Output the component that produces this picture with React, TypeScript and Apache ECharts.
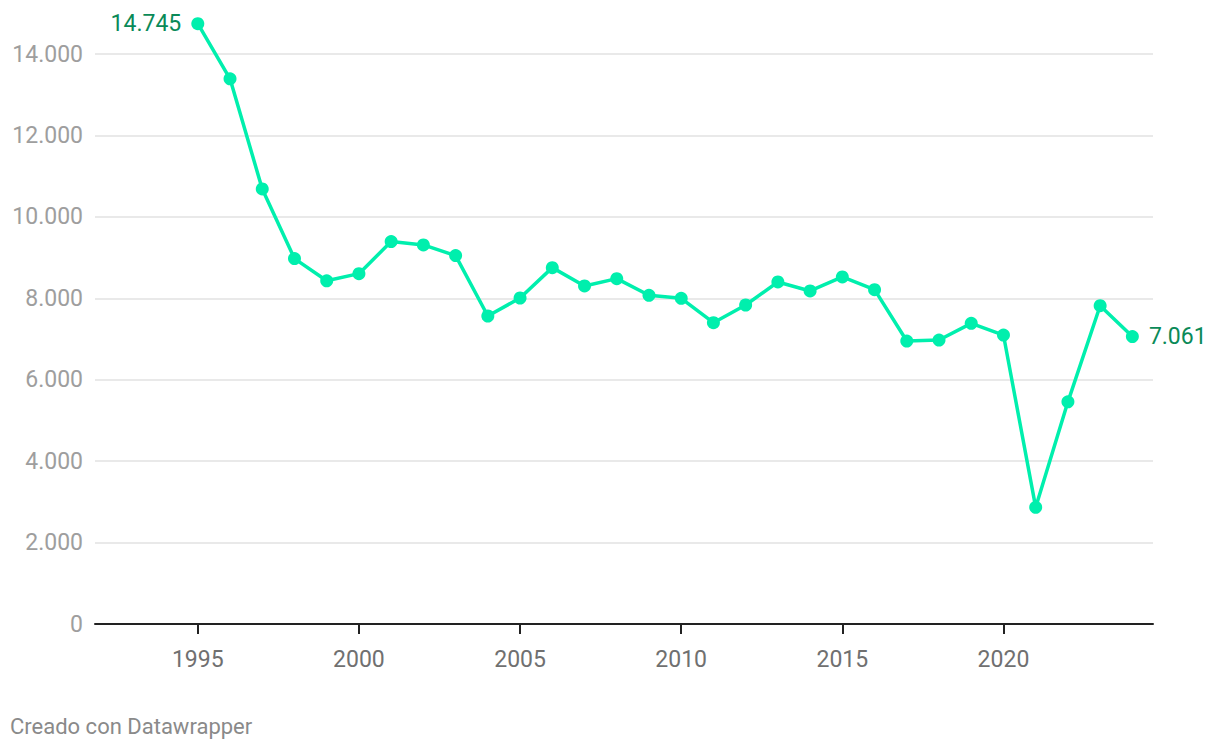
import React, { useEffect, useRef } from "react";
import * as echarts from "echarts";

const years = [
  1995, 1996, 1997, 1998, 1999, 2000, 2001, 2002, 2003, 2004, 2005, 2006, 2007, 2008, 2009,
  2010, 2011, 2012, 2013, 2014, 2015, 2016, 2017, 2018, 2019, 2020, 2021, 2022, 2023, 2024,
];
const values = [
  14745, 13390, 10685, 8975, 8430, 8605, 9392, 9311, 9048, 7565, 8007, 8753, 8303, 8482, 8074,
  8000, 7400, 7835, 8401, 8180, 8524, 8212, 6950, 6974, 7385, 7097, 2866, 5457, 7818, 7061,
];
const xTickYears = [1995, 2000, 2005, 2010, 2015, 2020];
const yTicks = [0, 2000, 4000, 6000, 8000, 10000, 12000, 14000];
const footer = "Creado con Datawrapper";

const fmt = (v: number) => String(Math.round(v)).replace(/\B(?=(\d{3})+(?!\d))/g, ".");

export default function App() {
  const ref = useRef<HTMLDivElement>(null);
  useEffect(() => {
    if (!ref.current) return;
    const chart = echarts.init(ref.current, null, { renderer: "svg" });
    const last = years.length - 1;
    const data = years.map((y, i) => {
      const item: any = { value: [y, values[i]] };
      if (i === 0) {
        item.label = { show: true, position: "left", distance: 10 };
      } else if (i === last) {
        item.label = { show: true, position: "right", distance: 10 };
      }
      return item;
    });
    chart.setOption({
      animation: false,
      grid: { left: 95, right: 67, top: 54, bottom: 126, containLabel: false },
      xAxis: {
        type: "value",
        min: 1991.81,
        max: 2024.64,
        splitLine: { show: false },
        axisLine: { show: true, lineStyle: { color: "#222", width: 2 } },
        axisTick: {
          show: true,
          length: 10,
          lineStyle: { color: "#222", width: 2 },
          customValues: xTickYears,
        },
        axisLabel: {
          customValues: xTickYears,
          formatter: (v: number) => String(v),
          color: "#707070",
          fontFamily: "Roboto",
          fontSize: 23,
          margin: 24,
        },
      },
      yAxis: {
        type: "value",
        min: 0,
        max: 14000,
        interval: 2000,
        axisLine: { show: false },
        axisTick: { show: false },
        splitLine: { show: true, lineStyle: { color: "#e2e2e2", width: 1.5 } },
        axisLabel: {
          formatter: (v: number) => fmt(v),
          color: "#9e9e9e",
          fontFamily: "Roboto",
          fontSize: 23,
          margin: 12,
        },
      },
      series: [
        {
          type: "line",
          data,
          clip: false,
          symbol: "circle",
          symbolSize: 13,
          showAllSymbol: true,
          lineStyle: { color: "#00efad", width: 3.5 },
          itemStyle: { color: "#00efad" },
          label: {
            show: false,
            formatter: (p: any) => fmt(p.value[1]),
            color: "#0a8a58",
            fontFamily: "Roboto",
            fontSize: 23,
          },
          z: 3,
        },
      ],
      graphic: [
        {
          type: "text",
          left: 10,
          top: 715,
          style: {
            text: footer,
            fill: "#8a8a8a",
            font: "22px Roboto",
          },
        },
      ],
    });
    return () => chart.dispose();
  }, []);
  return (
    <div
      ref={ref}
      style={{ position: "absolute", left: 0, top: 0, width: 1220, height: 750, background: "#fff" }}
    />
  );
}
